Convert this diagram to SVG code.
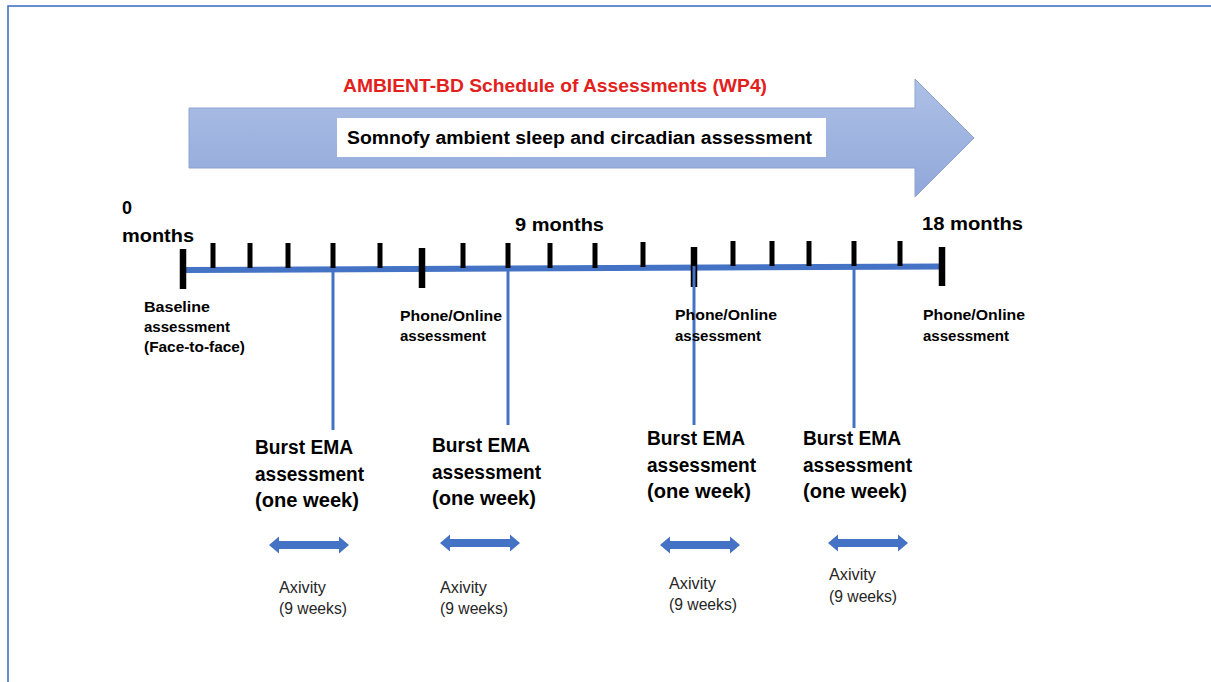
<svg xmlns="http://www.w3.org/2000/svg" xmlns:xlink="http://www.w3.org/1999/xlink" width="1211" height="682" viewBox="0 0 1211 682">
<style>
.b{font-family:"Liberation Sans",Arial,sans-serif;font-weight:bold;fill:#000}
.r{font-family:"Liberation Sans",Arial,sans-serif;fill:#262626}
.mon{font-size:18px}
.lab{font-size:14.5px}
.ema{font-size:20px}
.ax{font-size:16px}
.tick{stroke:#000;stroke-width:5}
.major{stroke:#000;stroke-width:6.5}
.conn{stroke:#4472C4;stroke-width:3;fill:none}
</style>
<defs>
<linearGradient id="ag" x1="0" y1="0" x2="0" y2="1">
<stop offset="0" stop-color="#ADC0E6"/>
<stop offset="1" stop-color="#91A8D9"/>
</linearGradient>
<path id="dbl" d="M0 0 L10 -8.5 L10 -4 L70 -4 L70 -8.5 L80 0 L70 8.5 L70 4 L10 4 L10 8.5 Z" fill="#4472C4"/>
</defs>
<rect x="0" y="0" width="1211" height="682" fill="#fff"/>
<rect x="8" y="6" width="1220" height="700" fill="none" stroke="#4472C4" stroke-width="1.6"/>

<g id="banner">
<polygon points="189,108 915,108 915,79 974,138 915,197 915,168 189,168" fill="url(#ag)" stroke="#8EA3D3" stroke-width="1"/>
<rect x="337" y="118" width="489" height="39" fill="#fff"/>
<text class="b" x="347" y="144" font-size="18" textLength="465" lengthAdjust="spacingAndGlyphs">Somnofy ambient sleep and circadian assessment</text>
</g>
<g id="title">
<text x="343" y="92" font-family="'Liberation Sans',Arial,sans-serif" font-weight="bold" font-size="18" fill="#E3211C" textLength="424" lengthAdjust="spacingAndGlyphs">AMBIENT-BD Schedule of Assessments (WP4)</text>
</g>

<g id="timeline">
<line x1="183" y1="270" x2="942" y2="266.5" stroke="#4472C4" stroke-width="6"/>
<g class="tick">
<line x1="213" y1="243" x2="213" y2="268"/>
<line x1="250" y1="243" x2="250" y2="268"/>
<line x1="288" y1="243" x2="288" y2="268"/>
<line x1="333" y1="243" x2="333" y2="268"/>
<line x1="380" y1="243" x2="380" y2="268"/>
<line x1="463" y1="243" x2="463" y2="268"/>
<line x1="508" y1="243" x2="508" y2="268"/>
<line x1="550" y1="243" x2="550" y2="268"/>
<line x1="595" y1="243" x2="595" y2="268"/>
<line x1="643" y1="242" x2="643" y2="267"/>
<line x1="733" y1="241" x2="733" y2="266"/>
<line x1="772" y1="241" x2="772" y2="266"/>
<line x1="809" y1="241" x2="809" y2="266"/>
<line x1="854" y1="241" x2="854" y2="266"/>
<line x1="900" y1="241" x2="900" y2="266"/>
</g>
<g class="major">
<line x1="183" y1="249" x2="183" y2="289"/>
<line x1="422" y1="248" x2="422" y2="288"/>
<line x1="694" y1="247" x2="694" y2="287"/>
<line x1="942" y1="247" x2="942" y2="286"/>
</g>
</g>

<g id="connectors">
<line class="conn" x1="333" y1="269" x2="333" y2="430"/>
<line class="conn" x1="508" y1="268" x2="508" y2="425"/>
<line class="conn" x1="694" y1="266" x2="694" y2="425"/>
<line class="conn" x1="854" y1="266" x2="854" y2="428"/>
</g>

<g id="m0">
<text class="b mon" x="122" y="214">0</text>
<text class="b mon" x="122" y="242" textLength="72" lengthAdjust="spacingAndGlyphs">months</text>
</g>
<g id="m9"><text class="b mon" x="515" y="231" textLength="89" lengthAdjust="spacingAndGlyphs">9 months</text></g>
<g id="m18"><text class="b mon" x="922" y="230" textLength="101" lengthAdjust="spacingAndGlyphs">18 months</text></g>

<g id="baseline">
<text class="b lab" x="144" y="312" textLength="66" lengthAdjust="spacingAndGlyphs">Baseline</text>
<text class="b lab" x="144" y="332" textLength="86" lengthAdjust="spacingAndGlyphs">assessment</text>
<text class="b lab" x="144" y="352" textLength="101" lengthAdjust="spacingAndGlyphs">(Face-to-face)</text>
</g>
<g id="phone1">
<text class="b lab" x="400" y="321" textLength="102" lengthAdjust="spacingAndGlyphs">Phone/Online</text>
<text class="b lab" x="400" y="341" textLength="86" lengthAdjust="spacingAndGlyphs">assessment</text>
</g>
<g id="phone2">
<text class="b lab" x="675" y="320" textLength="102" lengthAdjust="spacingAndGlyphs">Phone/Online</text>
<text class="b lab" x="675" y="341" textLength="86" lengthAdjust="spacingAndGlyphs">assessment</text>
</g>
<g id="phone3">
<text class="b lab" x="923" y="320" textLength="102" lengthAdjust="spacingAndGlyphs">Phone/Online</text>
<text class="b lab" x="923" y="341" textLength="86" lengthAdjust="spacingAndGlyphs">assessment</text>
</g>

<g id="ema1">
<text class="b ema" x="255" y="454" textLength="98" lengthAdjust="spacingAndGlyphs">Burst EMA</text>
<text class="b ema" x="255" y="481" textLength="109" lengthAdjust="spacingAndGlyphs">assessment</text>
<text class="b ema" x="255" y="507" textLength="104" lengthAdjust="spacingAndGlyphs">(one week)</text>
</g>
<g id="ema2">
<text class="b ema" x="432" y="452" textLength="98" lengthAdjust="spacingAndGlyphs">Burst EMA</text>
<text class="b ema" x="432" y="479" textLength="109" lengthAdjust="spacingAndGlyphs">assessment</text>
<text class="b ema" x="432" y="505" textLength="104" lengthAdjust="spacingAndGlyphs">(one week)</text>
</g>
<g id="ema3">
<text class="b ema" x="647" y="445" textLength="98" lengthAdjust="spacingAndGlyphs">Burst EMA</text>
<text class="b ema" x="647" y="472" textLength="109" lengthAdjust="spacingAndGlyphs">assessment</text>
<text class="b ema" x="647" y="498" textLength="104" lengthAdjust="spacingAndGlyphs">(one week)</text>
</g>
<g id="ema4">
<text class="b ema" x="803" y="445" textLength="98" lengthAdjust="spacingAndGlyphs">Burst EMA</text>
<text class="b ema" x="803" y="472" textLength="109" lengthAdjust="spacingAndGlyphs">assessment</text>
<text class="b ema" x="803" y="498" textLength="104" lengthAdjust="spacingAndGlyphs">(one week)</text>
</g>

<g id="ax1">
<use href="#dbl" x="269" y="545"/>
<text class="r ax" x="279" y="593" textLength="47" lengthAdjust="spacingAndGlyphs">Axivity</text>
<text class="r ax" x="279" y="614" textLength="68" lengthAdjust="spacingAndGlyphs">(9 weeks)</text>
</g>
<g id="ax2">
<use href="#dbl" x="440" y="543"/>
<text class="r ax" x="440" y="593" textLength="47" lengthAdjust="spacingAndGlyphs">Axivity</text>
<text class="r ax" x="440" y="614" textLength="68" lengthAdjust="spacingAndGlyphs">(9 weeks)</text>
</g>
<g id="ax3">
<use href="#dbl" x="660" y="545"/>
<text class="r ax" x="669" y="589" textLength="47" lengthAdjust="spacingAndGlyphs">Axivity</text>
<text class="r ax" x="669" y="610" textLength="68" lengthAdjust="spacingAndGlyphs">(9 weeks)</text>
</g>
<g id="ax4">
<use href="#dbl" x="828" y="543"/>
<text class="r ax" x="829" y="580" textLength="47" lengthAdjust="spacingAndGlyphs">Axivity</text>
<text class="r ax" x="829" y="602" textLength="68" lengthAdjust="spacingAndGlyphs">(9 weeks)</text>
</g>
</svg>
